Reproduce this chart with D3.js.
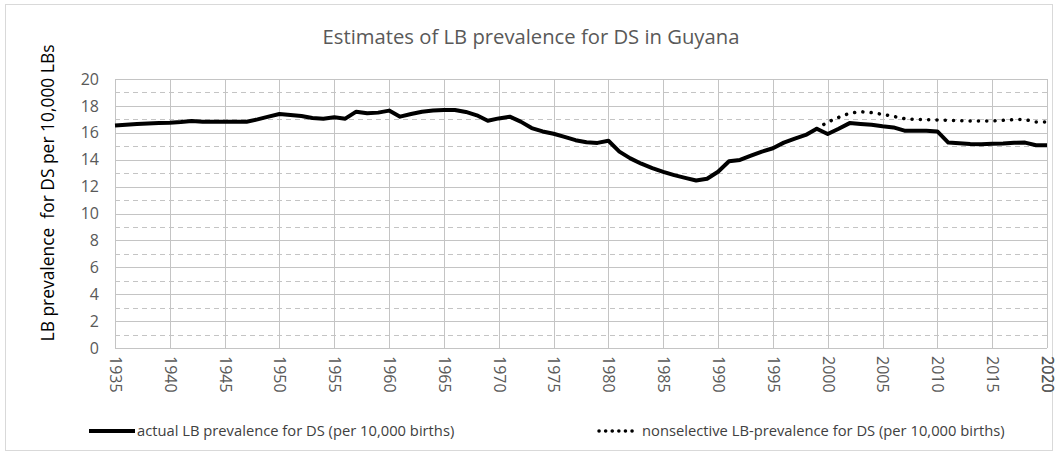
<!DOCTYPE html>
<html>
<head>
<meta charset="utf-8">
<script src="https://cdn.jsdelivr.net/npm/d3@7"></script>
<style>
  body { margin: 0; background: #fff; }
  text { font-family: "Open Sans", sans-serif; }
</style>
</head>
<body>
<script>
var w = 1058;
var h = 455;

// values, one per year
var years = d3.range(1935, 2021);
var actual = [
  16.55, 16.6, 16.65, 16.7, 16.72, 16.75, 16.8, 16.88, 16.83, 16.82,
  16.82, 16.82, 16.82, 17.0, 17.2, 17.4, 17.33, 17.25, 17.1, 17.05,
  17.15, 17.05, 17.57, 17.45, 17.5, 17.65, 17.2, 17.4, 17.57, 17.65,
  17.7, 17.7, 17.55, 17.3, 16.9, 17.07, 17.2, 16.83, 16.35, 16.1,
  15.93, 15.7, 15.45, 15.3, 15.25, 15.41, 14.6, 14.1, 13.7, 13.38,
  13.1, 12.85, 12.65, 12.45, 12.58, 13.1, 13.88, 13.98, 14.3, 14.6,
  14.85, 15.27, 15.57, 15.84, 16.3, 15.91, 16.3, 16.72, 16.66, 16.6,
  16.48, 16.4, 16.16, 16.15, 16.15, 16.1, 15.27, 15.22, 15.17, 15.15,
  15.18, 15.2, 15.26, 15.27, 15.07, 15.07
];
var nonselYears = d3.range(1999, 2021);
var nonselective = [
  16.3, 16.8, 17.15, 17.45, 17.57, 17.5, 17.37, 17.22, 17.05, 17.0,
  16.98, 16.96, 16.93, 16.9, 16.88, 16.88, 16.88, 16.93, 16.98, 16.98,
  16.8, 16.8
];
var xTicks = d3.range(1935, 2021, 5);
var yTicks = d3.range(0, 21, 2);
var yMinor = d3.range(1, 20, 2);

var title = 'Estimates of LB prevalence for DS in Guyana';
var yTitle = 'LB prevalence  for DS per 10,000 LBs';
var legendNames = ['actual LB prevalence for DS (per 10,000 births)',
                   'nonselective LB-prevalence for DS (per 10,000 births)'];

var pLeft = 115, pRight = 1047, pTop = 79, pBottom = 348;

var x = d3.scaleLinear().domain([1935, 2020]).range([pLeft, pRight]);
var y = d3.scaleLinear().domain([0, 20]).range([pBottom, pTop]);

var svg = d3.select('body')
  .append('svg')
  .attr('width', w)
  .attr('height', h);

svg.append('rect')
  .attr('x', 5.5).attr('y', 4.5)
  .attr('width', w - 11).attr('height', h - 9)
  .attr('fill', '#fff')
  .attr('stroke', '#d9d9d9');

// shrink or grow a text so it spans a given width
function fit(sel, width) {
  var size = parseFloat(sel.attr('font-size'));
  var len = sel.node().getComputedTextLength();
  sel.attr('font-size', (size * width / len).toFixed(2));
}

var grid = svg.append('g');
grid.selectAll('.minor')
  .data(yMinor).enter().append('line')
  .attr('x1', pLeft).attr('x2', pRight)
  .attr('y1', function (d) { return Math.round(y(d)) + 0.5; })
  .attr('y2', function (d) { return Math.round(y(d)) + 0.5; })
  .attr('stroke', '#c4c4c4')
  .attr('stroke-dasharray', '5 4');
grid.selectAll('.major')
  .data(yTicks).enter().append('line')
  .attr('x1', pLeft).attr('x2', pRight)
  .attr('y1', function (d) { return Math.round(y(d)) + 0.5; })
  .attr('y2', function (d) { return Math.round(y(d)) + 0.5; })
  .attr('stroke', '#c4c4c4');
grid.selectAll('.vert')
  .data(xTicks.concat([2020])).enter().append('line')
  .attr('x1', function (d) { return Math.round(x(d)) + 0.5; })
  .attr('x2', function (d) { return Math.round(x(d)) + 0.5; })
  .attr('y1', pTop).attr('y2', pBottom)
  .attr('stroke', '#c4c4c4');

// axes with the library, then restyle
var yAxis = svg.append('g')
  .attr('transform', 'translate(' + (pLeft - 16) + ',0)')
  .call(d3.axisLeft(y).tickValues(yTicks).tickSize(0).tickPadding(0));
yAxis.select('.domain').remove();
yAxis.selectAll('text')
  .attr('font-size', 16)
  .attr('fill', '#595959')
  .style('font-family', '"Open Sans", sans-serif');

var xAxis = svg.append('g')
  .attr('transform', 'translate(0,' + pBottom + ')')
  .call(d3.axisBottom(x).tickValues(xTicks.concat([2020])).tickFormat(d3.format('d')).tickSize(0));
xAxis.select('.domain').remove();
xAxis.selectAll('text')
  .attr('font-size', 16)
  .attr('fill', '#595959')
  .style('font-family', '"Open Sans", sans-serif')
  .attr('text-anchor', 'start')
  .attr('dy', '0.35em')
  .attr('transform', 'translate(0,8) rotate(90)')
  .attr('y', 0).attr('x', 0);

var line = d3.line()
  .x(function (d) { return x(d[0]); })
  .y(function (d) { return y(d[1]); });

svg.append('path')
  .datum(d3.zip(nonselYears, nonselective))
  .attr('d', line)
  .attr('fill', 'none')
  .attr('stroke', '#000')
  .attr('stroke-width', 3.5)
  .attr('stroke-linecap', 'round')
  .attr('stroke-dasharray', '0.1 8.2');

svg.append('path')
  .datum(d3.zip(years, actual))
  .attr('d', line)
  .attr('fill', 'none')
  .attr('stroke', '#000')
  .attr('stroke-width', 4)
  .attr('stroke-linejoin', 'round');

svg.append('text')
  .attr('x', 531).attr('y', 44)
  .attr('text-anchor', 'middle')
  .attr('font-size', 18)
  .attr('fill', '#595959')
  .text(title)
  .call(fit, 417);

svg.append('text')
  .attr('transform', 'translate(54,193) rotate(-90)')
  .attr('text-anchor', 'middle')
  .attr('font-size', 16)
  .attr('fill', '#000')
  .attr('xml:space', 'preserve')
  .text(yTitle)
  .call(fit, 297);

// legend, both entries at one font size
var lg = svg.append('g');
lg.append('line')
  .attr('x1', 89).attr('x2', 135).attr('y1', 431).attr('y2', 431)
  .attr('stroke', '#000').attr('stroke-width', 4);
var lt1 = lg.append('text')
  .attr('x', 137).attr('y', 436)
  .attr('font-size', 14).attr('fill', '#404040')
  .text(legendNames[0]);
lg.append('line')
  .attr('x1', 599).attr('x2', 638).attr('y1', 431).attr('y2', 431)
  .attr('stroke', '#000').attr('stroke-width', 3.5)
  .attr('stroke-linecap', 'round')
  .attr('stroke-dasharray', '0.1 6.5');
var lt2 = lg.append('text')
  .attr('x', 642).attr('y', 436)
  .attr('font-size', 14).attr('fill', '#404040')
  .text(legendNames[1]);
var both = lt1.node().getComputedTextLength() + lt2.node().getComputedTextLength();
var lsize = (14 * 680 / both).toFixed(2);
lt1.attr('font-size', lsize);
lt2.attr('font-size', lsize);
</script>
</body>
</html>
